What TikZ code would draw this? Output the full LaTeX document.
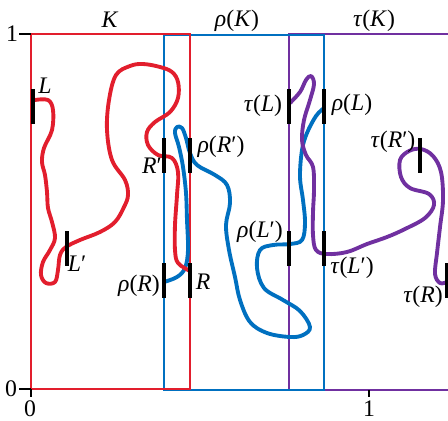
\documentclass[tikz,border=0pt]{standalone}
\usepackage{fontspec}
\setmainfont{Liberation Serif}
\usetikzlibrary{positioning}
\definecolor{kred}{RGB}{226,30,45}
\definecolor{kblue}{RGB}{0,112,192}
\definecolor{kpurple}{RGB}{112,48,160}
\newcommand{\labfont}{\fontsize{13.5}{16}\selectfont}
\tikzset{
  knot/.style  = {line width=2.2pt, line cap=round, line join=round},
  frame/.style = {line width=0.8pt},
  bar/.style   = {rectangle, fill=black, inner sep=0pt,
                  minimum width=0.08cm, minimum height=0.7cm},
  lab/.style   = {font=\labfont, inner sep=0pt},
  tick/.style  = {line width=0.6pt, black}
}

\begin{document}
\begin{tikzpicture}[x=0.02cm, y=-0.02cm]
    \useasboundingbox (0,0) rectangle (448,420);
    \clip (0,0) rectangle (448,420);
    % boxes K, rho(K), tau(K)
    \draw[frame, kpurple] (289,34) rectangle (449,390);
    \draw[frame, kblue] (164,35) rectangle (324,390);
    \draw[frame, kred] (31,34) rectangle (190,389);
    % axis ticks
    \draw[tick] (19,34) -- (31,34);
    \draw[tick] (19,389) -- (31,389);
    \draw[tick] (31,389) -- (31,397);
    \draw[tick] (369,390) -- (369,397);
    \node[lab] (one) at (12,34) {1};
    \node[lab] (zero) at (11,389) {0};
    \node[lab] (xzero) at (30,409) {0};
    \node[lab] (xone) at (369,409) {1};
    % titles
    \node[lab] (tK) at (110,20) {\textit{K}};
    \node[lab] (trK) at (237,21) {\textit{ρ}(\textit{K})};
    \node[lab] (ttK) at (374,21) {\textit{τ}(\textit{K})};
    % rho(K)
    \draw[knot, kblue] plot[smooth, tension=0.6] coordinates {
      (164,282) (177,277) (185,268) (188,250) (187,220) (186,193) (183,167)
      (179,147) (175,133) (177,127) (182,128) (186,138) (190,153) (197,165)
      (215,175) (227,185) (230,203) (226,225) (229,250) (235,277) (240,300)
      (250,322) (267,333) (290,337) (303,335) (310,327) (300,311) (283,300)
      (264,288) (257,268) (260,250) (273,245) (290,244) (302,240) (305,223)
      (303,200) (300,177) (302,150) (307,133) (316,116) (324,108)};
    % K
    \draw[knot, kred] plot[smooth, tension=0.6] coordinates {
      (35,100) (48,100) (53,110) (52,130) (44,148) (42,162) (45,175) (47,192)
      (48,208) (52,222) (55,238) (50,250) (43,262) (41,275) (46,283) (55,282)
      (58,270) (60,255) (66,247) (80,240) (100,232) (115,222) (124,207)
      (128,195) (125,180) (112,160) (107,130) (109,100) (116,75) (130,66)
      (143,64) (160,67) (172,72) (178,82) (178,98) (170,112) (155,122)
      (147,132) (148,145) (158,155) (172,158) (178,172) (177,195) (175,225)
      (175,250) (178,263) (190,271)};
    % tau(K)
    \draw[knot, kpurple] plot[smooth, tension=0.6] coordinates {
      (290,103) (300,92) (306,80) (311,76) (314,84) (310,100) (304,120)
      (302,140) (306,155) (313,167) (314,190) (313,212) (313,235) (316,250)
      (327,254) (347,252) (367,244) (387,237) (405,229) (425,218) (434,205)
      (429,194) (410,188) (401,177) (400,160) (409,151) (421,149) (433,156)
      (441,172) (443,200) (440,227) (437,253) (435,274) (440,283) (447,282)};
    % end bars
    \node[bar] (L) at (33,106) {};
    \node[bar] (Lp) at (67,248) {};
    \node[bar] (Rp) at (164,155) {};
    \node[bar] (R) at (190,280) {};
    \node[bar] (rRp) at (190,155) {};
    \node[bar] (rR) at (164,280) {};
    \node[bar] (rL) at (324,106) {};
    \node[bar] (rLp) at (289,248) {};
    \node[bar] (tL) at (289,106) {};
    \node[bar] (tLp) at (324,248) {};
    \node[bar] (tRp) at (420,155) {};
    \node[bar] (tR) at (447,280) {};
    % bar labels
    \node[lab] (labL) at (45,86) {\textit{L}};
    \node[lab] (labLp) at (77,264) {\textit{L}′};
    \node[lab] (labRp) at (152,166) {\textit{R}′};
    \node[lab] (labR) at (203,282) {\textit{R}};
    \node[lab] (labrRp) at (221,147) {\textit{ρ}(\textit{R}′)};
    \node[lab] (labrR) at (139,286) {\textit{ρ}(\textit{R})};
    \node[lab] (labrL) at (352,105) {\textit{ρ}(\textit{L})};
    \node[lab] (labrLp) at (260,232) {\textit{ρ}(\textit{L}′)};
    \node[lab] (labtL) at (263,106) {\textit{τ}(\textit{L})};
    \node[lab] (labtLp) at (352,268) {\textit{τ}(\textit{L}′)};
    \node[lab] (labtRp) at (393,142) {\textit{τ}(\textit{R}′)};
    \node[lab] (labtR) at (423,297) {\textit{τ}(\textit{R})};
\end{tikzpicture}
\end{document}
